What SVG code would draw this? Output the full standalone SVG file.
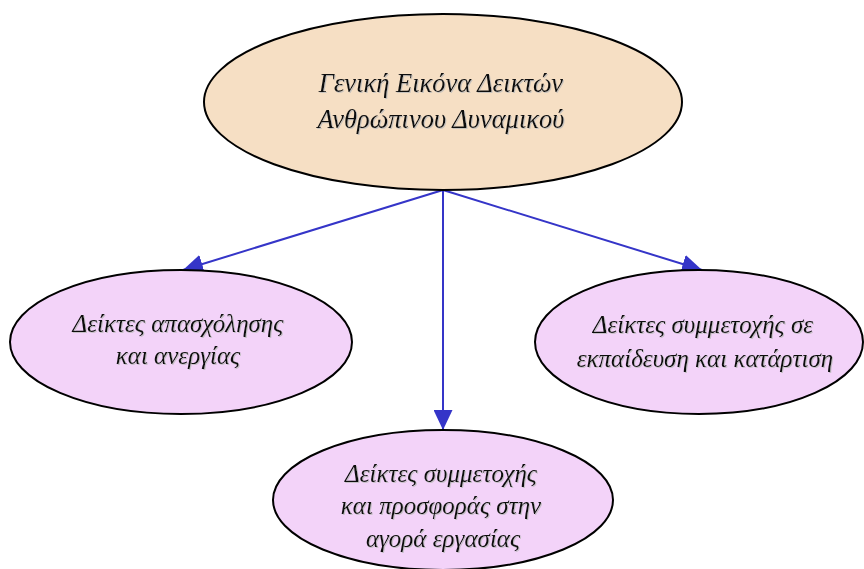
<svg xmlns="http://www.w3.org/2000/svg" width="864" height="569" viewBox="0 0 864 569">
<defs>
<marker id="ah" markerWidth="20" markerHeight="19" refX="20" refY="9.5" orient="auto" markerUnits="userSpaceOnUse">
<path d="M0,0 L20,9.5 L0,19 Z" fill="#3535c8"/>
</marker>
<filter id="sh" x="-5%" y="-20%" width="110%" height="140%">
<feDropShadow dx="1" dy="1" stdDeviation="0.4" flood-color="#bbbbbb" flood-opacity="0.8"/>
</filter>
<style>
.n{stroke:#000;stroke-width:2}
.top{fill:#f6dfc4}
.sub{fill:#f3d3f9}
.t{font-family:"Liberation Serif","DejaVu Serif",serif;font-style:italic;font-size:25px;fill:#111;text-anchor:middle;filter:url(#sh)}
.tb{font-size:26.5px}
.c{stroke:#3535c8;stroke-width:2;fill:none;marker-end:url(#ah)}
</style>
</defs>
<rect width="864" height="569" fill="#fff"/>
<g id="connectors">
<line class="c" x1="443" y1="190" x2="183" y2="270"/>
<line class="c" x1="443" y1="190" x2="443" y2="430"/>
<line class="c" x1="443" y1="190" x2="702" y2="270"/>
</g>
<g id="n-top">
<ellipse class="n top" cx="443" cy="102" rx="239" ry="88"/>
<text class="t tb" x="441" y="92">Γενική Εικόνα Δεικτών</text>
<text class="t tb" x="441" y="128">Ανθρώπινου Δυναμικού</text>
</g>
<g id="n-left">
<ellipse class="n sub" cx="181" cy="342" rx="171" ry="72"/>
<text class="t" x="178" y="332">Δείκτες απασχόλησης</text>
<text class="t" x="178" y="364">και ανεργίας</text>
</g>
<g id="n-right">
<ellipse class="n sub" cx="699" cy="342" rx="164" ry="72"/>
<text class="t" x="703" y="333">Δείκτες συμμετοχής σε</text>
<text class="t" x="705" y="367">εκπαίδευση και κατάρτιση</text>
</g>
<g id="n-bottom">
<ellipse class="n sub" cx="443" cy="500" rx="170" ry="70"/>
<text class="t" x="441" y="482">Δείκτες συμμετοχής</text>
<text class="t" x="441" y="514">και προσφοράς στην</text>
<text class="t" x="443" y="547">αγορά εργασίας</text>
</g>
</svg>
